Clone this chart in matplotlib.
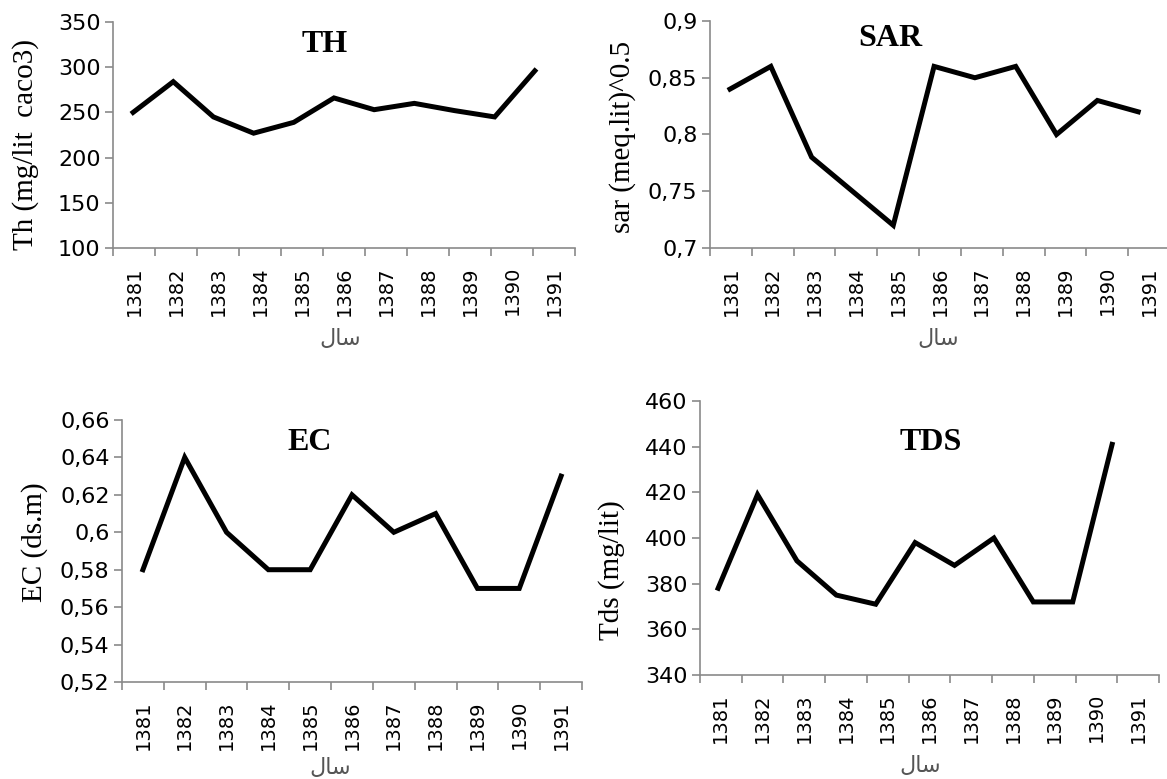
import matplotlib
matplotlib.use("Agg")
import matplotlib.pyplot as plt
from matplotlib.ticker import FixedLocator, FuncFormatter, NullFormatter

# data
years = ["1381", "1382", "1383", "1384", "1385", "1386", "1387", "1388", "1389", "1390", "1391"]
th = [250, 284, 245, 227, 239, 266, 253, 260, 252, 245, 296]
sar = [0.84, 0.86, 0.78, 0.75, 0.72, 0.86, 0.85, 0.86, 0.80, 0.83, 0.82]
ec = [0.58, 0.64, 0.60, 0.58, 0.58, 0.62, 0.60, 0.61, 0.57, 0.57, 0.63]
tds = [378, 419, 390, 375, 371, 398, 388, 400, 372, 372, 441]

th_ticks = [100, 150, 200, 250, 300, 350]
sar_ticks = [0.7, 0.75, 0.8, 0.85, 0.9]
ec_ticks = [0.52, 0.54, 0.56, 0.58, 0.6, 0.62, 0.64, 0.66]
tds_ticks = [340, 360, 380, 400, 420, 440, 460]

# the arabic word "sal" (year), written in presentation forms, visual order
xlabel_text = "\uFEDD\uFE8E\uFEB3"

W, H = 1167, 779
fig = plt.figure(figsize=(W / 100, H / 100), dpi=100)
fig.patch.set_facecolor("white")

spine_col = "#8a8a8a"
serif = ["Liberation Serif", "DejaVu Serif"]


def px_rect(left, right, top, bottom):
    return [left / W, 1 - bottom / H, (right - left) / W, (bottom - top) / H]


def panel(rect, values, ticks, ylabel, title, title_xy, ylabel_xy, xlabel_xy, line_xlim):
    ax = fig.add_axes(px_rect(*rect))
    n = len(years)
    ax.set_xlim(-0.5, n - 0.5)
    ax.set_ylim(ticks[0], ticks[-1])
    for s in ["top", "right"]:
        ax.spines[s].set_visible(False)
    for s in ["left", "bottom"]:
        ax.spines[s].set_color(spine_col)
        ax.spines[s].set_linewidth(1.2)

    # category boundaries carry the tick marks, centres carry the labels
    ax.xaxis.set_major_locator(FixedLocator([i - 0.5 for i in range(n + 1)]))
    ax.xaxis.set_major_formatter(NullFormatter())
    ax.xaxis.set_minor_locator(FixedLocator(list(range(n))))
    ax.xaxis.set_minor_formatter(FuncFormatter(lambda v, p: years[int(round(v))]))
    ax.tick_params(axis="x", which="major", length=6, width=1.2, color=spine_col, direction="out")
    ax.tick_params(axis="x", which="minor", length=0, pad=13, labelsize=14, labelrotation=90)

    ax.set_yticks(ticks)
    ax.yaxis.set_major_formatter(FuncFormatter(lambda v, p: f"{v:g}".replace(".", ",")))
    ax.tick_params(axis="y", length=6, width=1.2, color=spine_col, direction="out",
                   labelsize=16, pad=3)

    # the series line sits on its own x scale, as in the original
    ax2 = ax.twiny()
    ax2.set_xlim(*line_xlim)
    ax2.set_ylim(ticks[0], ticks[-1])
    ax2.axis("off")
    ax2.plot(range(n), values, color="black", linewidth=3.6, solid_joinstyle="miter")

    fig.text(title_xy[0] / W, 1 - title_xy[1] / H, title, ha="center", va="center",
             fontsize=23, fontweight="bold", family=serif)
    fig.text(ylabel_xy[0] / W, 1 - ylabel_xy[1] / H, ylabel, ha="center", va="center",
             rotation=90, fontsize=21, family=serif)
    fig.text(xlabel_xy[0] / W, 1 - xlabel_xy[1] / H, xlabel_text, ha="center", va="center",
             fontsize=16, color="#555555", family="DejaVu Sans")


panel((113, 575, 22, 248), th, th_ticks, "Th (mg/lit  caco3)", "TH",
      (325, 44), (26, 145), (340, 339), (-0.5, 11.0))
panel((710, 1170, 21, 248), sar, sar_ticks, "sar (meq.lit)^0.5", "SAR",
      (890, 39), (623, 137), (938, 339), (-0.49, 10.78))
panel((122, 582, 420, 682), ec, ec_ticks, "EC (ds.m)", "EC",
      (310, 442), (35, 542), (330, 768), (-0.5, 10.5))
panel((700, 1159, 401, 675), tds, tds_ticks, "Tds (mg/lit)", "TDS",
      (931, 442), (612, 570), (920, 766), (-0.46, 11.19))

fig.savefig("out.png", dpi=100)
